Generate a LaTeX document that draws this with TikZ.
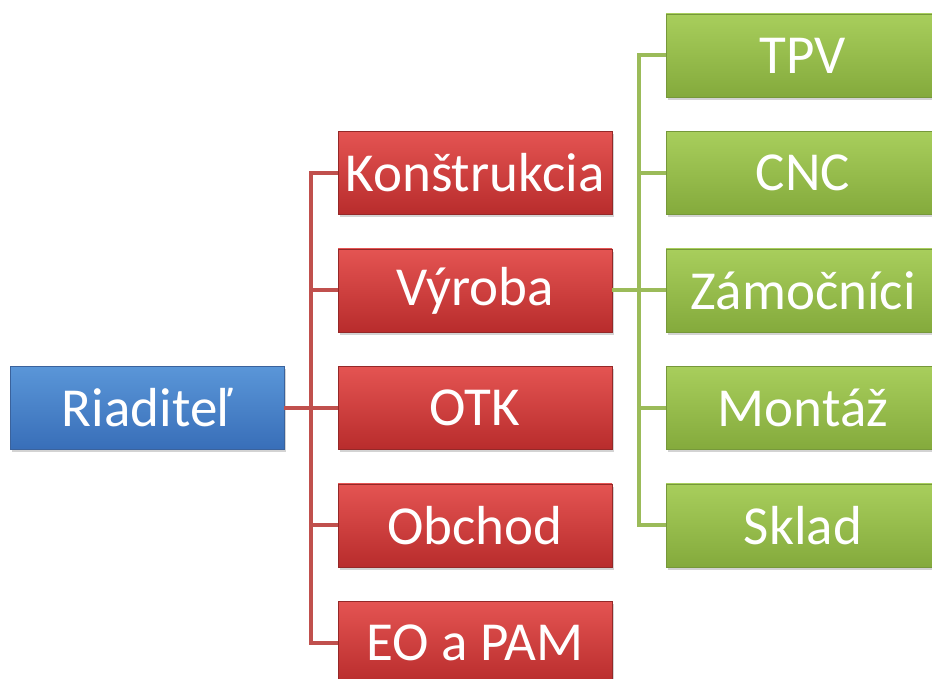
\documentclass[tikz,border=0pt]{standalone}
\usepackage{fontspec}
\setmainfont{Carlito}
\usetikzlibrary{shapes,arrows,shadows,calc}

\definecolor{bluetop}{RGB}{90,150,216}
\definecolor{bluebot}{RGB}{56,110,184}
\definecolor{blueedge}{RGB}{58,98,156}
\definecolor{redtop}{RGB}{228,84,82}
\definecolor{redbot}{RGB}{184,44,44}
\definecolor{rededge}{RGB}{148,40,40}
\definecolor{greentop}{RGB}{168,206,92}
\definecolor{greenbot}{RGB}{132,170,60}
\definecolor{greenedge}{RGB}{118,152,58}
\definecolor{redwire}{RGB}{192,80,77}
\definecolor{greenwire}{RGB}{155,187,89}

\begin{document}
\begin{tikzpicture}[x=1pt, y=1pt, node distance = 117.5pt, auto]
    \tikzstyle{box} = [rectangle, text=white, minimum width=274pt, minimum height=83pt,
    inner sep=0pt, font=\fontsize{55}{60}\selectfont,
    drop shadow={shadow xshift=2pt, shadow yshift=-3pt, opacity=0.35}]
\tikzstyle{chief} = [box, draw=blueedge, top color=bluetop, bottom color=bluebot]
\tikzstyle{dept} = [box, draw=rededge, top color=redtop, bottom color=redbot]
\tikzstyle{unit} = [box, draw=greenedge, top color=greentop, bottom color=greenbot]
\tikzstyle{redline} = [draw, redwire, line width=4pt]
\tikzstyle{greenline} = [draw, greenwire, line width=4pt]

    \useasboundingbox (0,0) rectangle (932,679);
    % Place nodes
    \node [chief] at (147,271) (boss) {Riaditeľ};
    \node [dept, right of=boss, node distance=328pt] (otk) {OTK};
    \node [dept, above of=otk] (vyroba) {Výroba};
    \node [dept, above of=vyroba] (konstr) {Konštrukcia};
    \node [dept, below of=otk] (obchod) {Obchod};
    \node [dept, below of=obchod] (eopam) {EO a PAM};
    \node [unit, right of=vyroba, node distance=328pt] (zamoc) {Zámočníci};
    \node [unit, above of=zamoc] (cnc) {CNC};
    \node [unit, above of=cnc] (tpv) {TPV};
    \node [unit, below of=zamoc] (montaz) {Montáž};
    \node [unit, below of=montaz] (sklad) {Sklad};
    \coordinate (redbus) at ($(boss.east)!0.5!(otk.west)$);
    \coordinate (greenbus) at ($(vyroba.east)!0.5!(zamoc.west)$);
    % Draw edges
    \path [redline] (boss) -- (otk);
    \path [redline] (redbus) |- (vyroba.west);
    \path [redline] (redbus) |- (konstr.west);
    \path [redline] (redbus) |- (obchod.west);
    \path [redline] (redbus) |- (eopam.west);
    \path [greenline] (vyroba) -- (zamoc);
    \path [greenline] (greenbus) |- (cnc.west);
    \path [greenline] (greenbus) |- (tpv.west);
    \path [greenline] (greenbus) |- (montaz.west);
    \path [greenline] (greenbus) |- (sklad.west);
\end{tikzpicture}
\end{document}
